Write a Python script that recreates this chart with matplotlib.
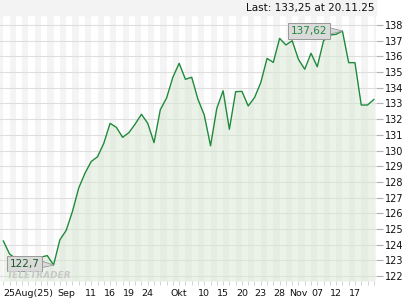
import matplotlib
matplotlib.use("Agg")
import matplotlib.pyplot as plt
import numpy as np
from matplotlib.patches import Rectangle

# daily closing prices, one per plotted session
prices = [
    124.23, 123.40, 123.10, 123.00, 122.90, 123.00, 123.20, 123.30, 122.70, 124.30,
    124.90, 126.10, 127.60, 128.55, 129.30, 129.60, 130.46, 131.73, 131.48, 130.84,
    131.14, 131.69, 132.31, 131.73, 130.50, 132.60, 133.35, 134.67, 135.56, 134.54,
    134.67, 133.26, 132.26, 130.30, 132.69, 133.81, 131.35, 133.75, 133.77, 132.84,
    133.37, 134.33, 135.87, 135.62, 137.15, 136.73, 137.00, 135.81, 135.18, 136.20,
    135.34, 137.00, 137.36, 137.41, 137.62, 135.60, 135.60, 132.90, 132.90, 133.25,
]
tick_idx = [0, 10, 14, 17, 20, 23, 28, 32, 35, 38, 41, 44, 47, 50, 53, 56]
tick_labels = ["25Aug(25)", "Sep", "11", "16", "19", "24", "Okt", "10", "15",
               "20", "23", "28", "Nov", "07", "12", "17"]
y_ticks = list(range(122, 139))
last_text = "Last: 133,25 at 20.11.25"
max_label = "137,62"
min_label = "122,7"

GREEN = "#1f8a3b"

x = np.arange(len(prices))
y = np.array(prices)

fig = plt.figure(figsize=(4.2, 3.0), dpi=100)
fig.patch.set_facecolor("white")
# grey header band above the plot
fig.patches.append(Rectangle((0, 285 / 300), 376 / 420, 15 / 300,
                             transform=fig.transFigure, color="#f3f3f3", zorder=0))
ax = fig.add_axes([0, 19 / 300, 376 / 420, 266 / 300])
ax.set_facecolor("white")

# alternating day stripes
for i in range(0, len(prices) + 1, 2):
    ax.axvspan(i - 1, i, color="#f4f4f4", lw=0, zorder=0)

ax.set_xlim(-0.53, 59.35)
ax.set_ylim(121.68, 138.64)

ax.set_yticks(y_ticks)
ax.yaxis.grid(True, color="#dedede", lw=0.8, zorder=1)
ax.set_axisbelow(True)

ax.fill_between(x, y, 121.68, color="#d8e8d4", alpha=0.5, lw=0, zorder=2)
ax.plot(x, y, color=GREEN, lw=1.0, zorder=3)

for s in ax.spines.values():
    s.set_visible(False)

ax.yaxis.tick_right()
ax.tick_params(axis="y", length=5, color="#b0b0b0", width=0.8, pad=1.5,
               labelsize=7, labelcolor="#111111")
ax.set_xticks(tick_idx)
ax.set_xticklabels(tick_labels)
ax.set_xticks(x, minor=True)
ax.tick_params(axis="x", which="both", length=3, color="#cccccc", width=0.6)
ax.tick_params(axis="x", which="major", pad=3, labelsize=6.8, labelcolor="#111111")
ax.get_xticklabels()[0].set_ha("left")

# max / min callouts
imax = int(np.argmax(y))
imin = int(np.argmin(y))
box = dict(boxstyle="square,pad=0.25", fc="#dadada", ec="#999999", lw=0.7)
arrow = dict(arrowstyle="wedge,tail_width=0.6", fc="#dadada", ec="#999999", lw=0.6,
             shrinkA=0, shrinkB=0)
ax.annotate(max_label, (x[imax], y[imax]), xytext=(-24, 0), textcoords="offset points",
            ha="center", va="center", fontsize=7.5, color=GREEN, bbox=box,
            arrowprops=arrow, zorder=5)
ax.annotate(min_label, (x[imin], y[imin]), xytext=(-21, 1), textcoords="offset points",
            ha="center", va="center", fontsize=7.5, color="#1a5a2a", bbox=box,
            arrowprops=arrow, zorder=5)

fig.text(39 / 420, 24 / 300, "TELETRADER", fontsize=6.5, color="#c8c8c8",
         fontweight="bold", style="italic", ha="center", va="center", zorder=6)
fig.text(375 / 420, 292 / 300, last_text, fontsize=7.5, color="#111111",
         ha="right", va="center")

fig.savefig("out.png", dpi=100)
